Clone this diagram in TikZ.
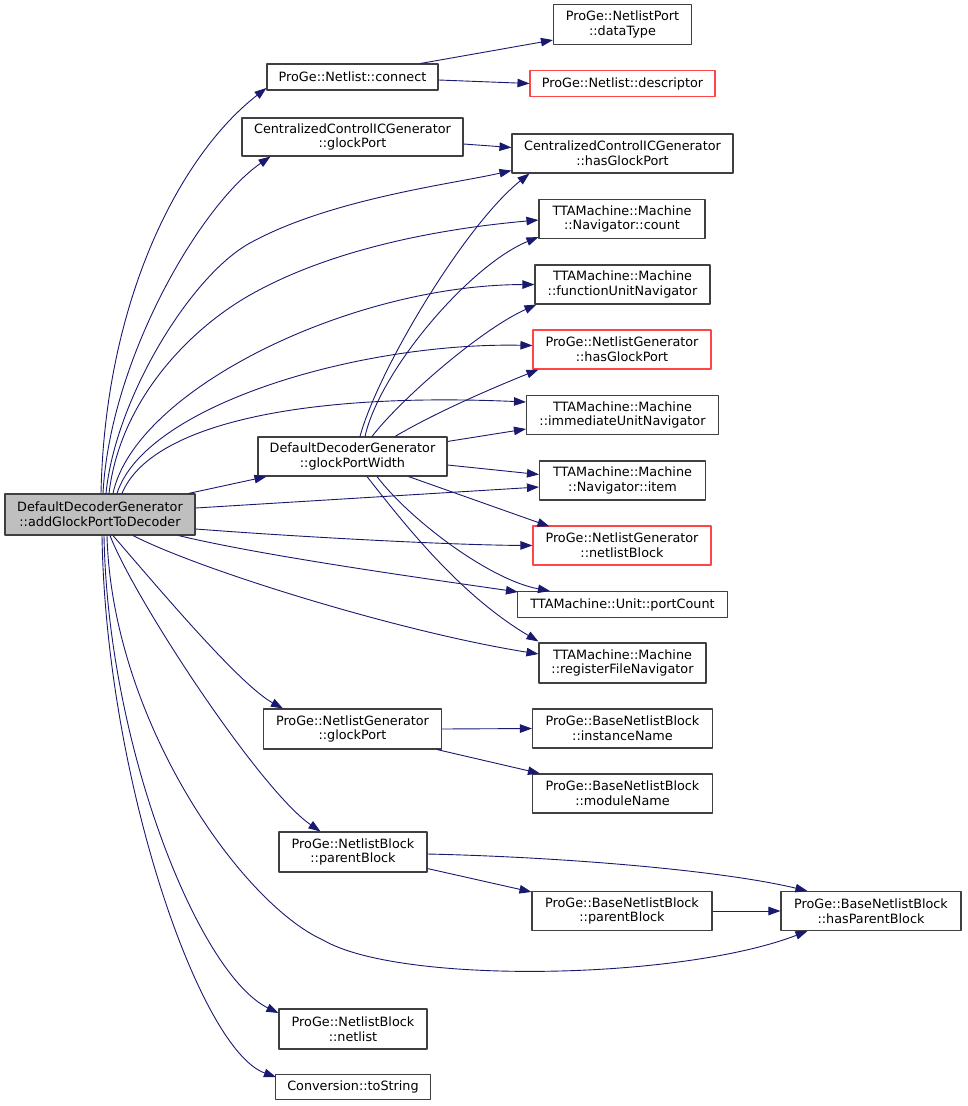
\documentclass[tikz,border=0pt]{standalone}
\usepackage{fontspec}
\setmainfont{DejaVu Sans}
\usetikzlibrary{arrows.meta}
\definecolor{edgeblue}{RGB}{25,25,112}
\definecolor{boxgray}{RGB}{64,64,64}
\definecolor{boxred}{RGB}{255,70,70}
\definecolor{rootgray}{RGB}{191,191,191}
\tikzset{
  fn/.style={draw=boxgray, line width=1.1pt, fill=white, inner sep=0pt, align=center,
    font=\fontsize{12.8}{14.7}\selectfont},
  fnred/.style={fn, draw=boxred},
  sz/.style 2 args={minimum width=#1pt, minimum height=#2pt},
  call/.style={draw=edgeblue, line width=0.9pt, -{Triangle[length=12pt,width=8.5pt]}}
}
\begin{document}
\begin{tikzpicture}[x=1pt, y=-1pt, line join=round]
		\useasboundingbox (0,0) rectangle (967,1106);
		% caller
		\node[fn, fill=rootgray, sz={190}{41}] (adder) at (100,514.5) {DefaultDecoderGenerator\\::addGlockPortToDecoder};
		% second column
		\node[fn, sz={171}{26}] (connect) at (352.5,77) {ProGe::Netlist::connect};
		\node[fn, sz={221}{38}] (ccglock) at (352.5,137) {CentralizedControlICGenerator\\::glockPort};
		\node[fn, sz={189}{39}] (width) at (352.5,456.5) {DefaultDecoderGenerator\\::glockPortWidth};
		\node[fn, sz={178}{40}] (ngglock) at (352.5,729) {ProGe::NetlistGenerator\\::glockPort};
		\node[fn, sz={148}{40}] (nbparent) at (353,852) {ProGe::NetlistBlock\\::parentBlock};
		\node[fn, sz={148}{40}] (nbnetlist) at (353,1029) {ProGe::NetlistBlock\\::netlist};
		\node[fn, sz={155}{25}] (tostring) at (353,1087) {Conversion::toString};
		% third column
		\node[fn, sz={138}{40}] (datatype) at (622.5,24.5) {ProGe::NetlistPort\\::dataType};
		\node[fnred, sz={185}{26}] (descriptor) at (622.5,83.5) {ProGe::Netlist::descriptor};
		\node[fn, sz={221}{39}] (cchas) at (622.5,153.5) {CentralizedControlICGenerator\\::hasGlockPort};
		\node[fn, sz={166}{39}] (count) at (622,219) {TTAMachine::Machine\\::Navigator::count};
		\node[fn, sz={175}{39}] (funav) at (622.5,284.5) {TTAMachine::Machine\\::functionUnitNavigator};
		\node[fnred, sz={178}{39}] (nghas) at (622,349.5) {ProGe::NetlistGenerator\\::hasGlockPort};
		\node[fn, sz={192}{39}] (imnav) at (622.5,415) {TTAMachine::Machine\\::immediateUnitNavigator};
		\node[fn, sz={166}{39}] (item) at (622.5,480.5) {TTAMachine::Machine\\::Navigator::item};
		\node[fnred, sz={178}{39}] (nlblock) at (622,545.5) {ProGe::NetlistGenerator\\::netlistBlock};
		\node[fn, sz={210}{26}] (portcount) at (622.5,604.5) {TTAMachine::Unit::portCount};
		\node[fn, sz={167}{40}] (rfnav) at (622.5,663) {TTAMachine::Machine\\::registerFileNavigator};
		\node[fn, sz={180}{39}] (instname) at (622.5,728.5) {ProGe::BaseNetlistBlock\\::instanceName};
		\node[fn, sz={180}{39}] (modname) at (622.5,793.5) {ProGe::BaseNetlistBlock\\::moduleName};
		\node[fn, sz={180}{39}] (bnbparent) at (622,911) {ProGe::BaseNetlistBlock\\::parentBlock};
		\node[fn, sz={180}{39}] (hasparent) at (871,911) {ProGe::BaseNetlistBlock\\::hasParentBlock};
		
		% calls out of the top of the caller
		\draw[call] ([shift={(1,0)}]adder.north) .. controls (105,300) and (180,155) .. ([shift={(0,11)}]connect.west);
		\draw[call] ([shift={(3,0)}]adder.north) .. controls (110,360) and (200,205) .. ([shift={(29,0)}]ccglock.south west);
		\draw[call] ([shift={(6,0)}]adder.north) .. controls (115,400) and (190,276) .. (250,243)
			.. controls (330,199) and (452,184) .. ([shift={(0,-3)}]cchas.south west);
		\draw[call] ([shift={(9,0)}]adder.north) .. controls (120,400) and (190,329) .. (250,295)
			.. controls (340,244) and (459,227) .. ([shift={(0,1)}]count.west);
		\draw[call] ([shift={(13,0)}]adder.north) .. controls (135,390) and (350,285) .. (funav.west);
		\draw[call] ([shift={(17,0)}]adder.north) .. controls (145,405) and (360,342) .. ([shift={(0,-4)}]nghas.west);
		\draw[call] ([shift={(22,0)}]adder.north) .. controls (150,425) and (300,392) .. ([shift={(0,-13)}]imnav.west);
		\draw[call] ([shift={(-7,0)}]adder.north east) -- ([shift={(9,0)}]width.south west);
		% calls out of the right side
		\draw[call] ([shift={(0,-6.5)}]adder.east) -- ([shift={(0,6.5)}]item.west);
		\draw[call] ([shift={(0,14.5)}]adder.east) .. controls (300,537) and (450,545) .. (nlblock.west);
		\draw[call] ([shift={(-17,0)}]adder.south east) .. controls (260,555) and (400,575) .. ([shift={(1,1)}]portcount.north west);
		% calls out of the bottom
		\draw[call] ([shift={(33,0)}]adder.south) .. controls (200,570) and (400,632) .. ([shift={(0,-9)}]rfnav.west);
		\draw[call] ([shift={(13,0)}]adder.south) .. controls (160,590) and (240,685) .. ([shift={(20,0)}]ngglock.north west);
		\draw[call] ([shift={(10,0)}]adder.south) .. controls (135,600) and (260,790) .. ([shift={(42,0)}]nbparent.north west);
		\draw[call] ([shift={(7,0)}]adder.south) .. controls (112,720) and (241,903) .. (323,940)
			.. controls (400,985) and (680,980) .. ([shift={(27,0)}]hasparent.south west);
		\draw[call] ([shift={(4,0)}]adder.south) .. controls (108,750) and (200,975) .. ([shift={(0,-16)}]nbnetlist.west);
		\draw[call] ([shift={(2,0)}]adder.south) .. controls (106,780) and (200,1050) .. ([shift={(1,-10)}]tostring.west);
		
		% glockPortWidth
		\draw[call] ([shift={(7.5,0)}]width.north) .. controls (378,370) and (465,225) .. ([shift={(18,0)}]cchas.south west);
		\draw[call] ([shift={(12.5,0)}]width.north) .. controls (380,370) and (470,265) .. ([shift={(0,-2)}]count.south west);
		\draw[call] ([shift={(19.5,0)}]width.north) .. controls (400,400) and (480,330) .. ([shift={(2,0)}]funav.south west);
		\draw[call] ([shift={(42.5,0)}]width.north) .. controls (440,410) and (500,385) .. ([shift={(6,0)}]nghas.south west);
		\draw[call] ([shift={(0,5)}]width.north east) -- ([shift={(0,14)}]imnav.west);
		\draw[call] ([shift={(0,8.5)}]width.east) -- ([shift={(0,-6)}]item.west);
		\draw[call] ([shift={(-39,0)}]width.south east) -- ([shift={(17,1)}]nlblock.north west);
		\draw[call] ([shift={(24.5,0)}]width.south) .. controls (410,520) and (490,580) .. ([shift={(33,0)}]portcount.north west);
		\draw[call] ([shift={(14.5,0)}]width.south) .. controls (405,525) and (460,595) .. ([shift={(0,-1)}]rfnav.north west);
		
		% the rest
		\draw[call] ([shift={(-18,0)}]connect.north east) -- ([shift={(0,-5)}]datatype.south west);
		\draw[call] ([shift={(0,3)}]connect.east) -- (descriptor.west);
		\draw[call] ([shift={(0,7)}]ccglock.east) -- ([shift={(0,-6)}]cchas.west);
		\draw[call] (ngglock.east) -- (instname.west);
		\draw[call] ([shift={(-5,0)}]ngglock.south east) -- ([shift={(8,0)}]modname.north west);
		\draw[call] ([shift={(0,2)}]nbparent.east) .. controls (560,857) and (720,870) .. ([shift={(27,0)}]hasparent.north west);
		\draw[call] ([shift={(0,-4)}]nbparent.south east) -- ([shift={(0,1)}]bnbparent.north west);
		\draw[call] (bnbparent.east) -- (hasparent.west);
	\end{tikzpicture}
\end{document}
